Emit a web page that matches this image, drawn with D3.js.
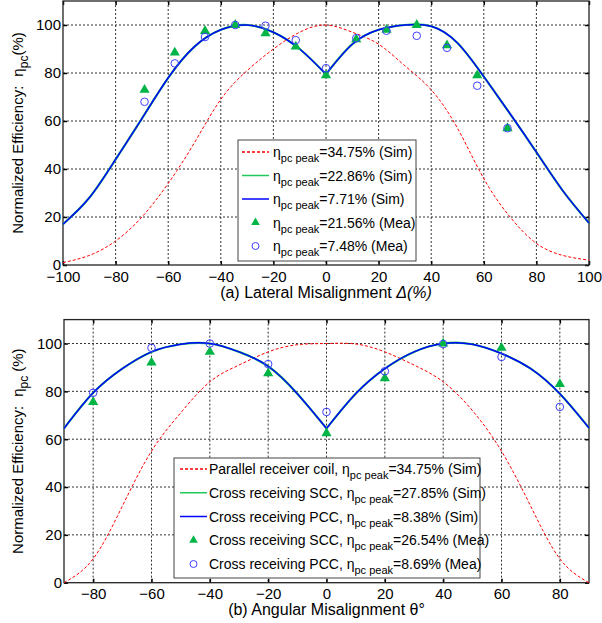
<!DOCTYPE html>
<html>
<head>
<meta charset="utf-8">
<script src="https://cdnjs.cloudflare.com/ajax/libs/d3/7.8.5/d3.min.js"></script>
<style>
body { margin: 0; background: #fff; }
text { font-family: Arial, "Liberation Sans", sans-serif; }
</style>
</head>
<body>
<script>
// ---- (a) lateral misalignment ----
var latX = [-100,-90,-80,-70,-60,-50,-40,-30,-20,-10,0,10,20,30,40,50,60,70,80,90,100];
var latParallel = [1,4,10,20,34,51,69,81,90,97,100,97,92,83,73,57,36,20,9,4,2];
var latSCC = [17,28,44,61,78,91,98,100,97,90,79.5,92,98,100,99.5,92.5,78.5,63,47,31,17.5];
var latPCC = [17,28,44,61,78,91,98,100,97,90,79.5,92,98,100,99.5,92.5,78.5,63,47,31,17.5];
var latMeaX = [-69,-57.5,-46,-34.5,-23,-11.5,0,11.5,23,34.5,46,57.5,69];
var latSCCMea = [73,88.5,97.5,100,96.5,91,79,94,98,100,91.5,79,57];
var latPCCMea = [68,84,95,100,99.7,93.7,82,94.5,97.6,95.5,90.5,74.7,57];
var latTicks = [-100,-80,-60,-40,-20,0,20,40,60,80,100];
var latLegendValues = ["=34.75% (Sim)","=22.86% (Sim)","=7.71% (Sim)","=21.56% (Mea)","=7.48% (Mea)"];

// ---- (b) angular misalignment ----
var angX = [-90,-80,-70,-60,-50,-40,-30,-20,-10,0,10,20,30,40,50,60,70,80,90];
var angParallel = [0,10,32,55,71,84,91,96.5,99.5,100,99.8,96.5,91,84,72,55,32,10,0];
var angSCC = [64.5,79.4,89.5,96.5,99.7,100,96.5,90.5,79,64.5,79,89.5,96.5,100,99.7,95.8,89.5,79,64.7];
var angPCC = [64.5,79.4,89.5,96.5,99.7,100,96.5,90.5,79,64.5,79,89.5,96.5,100,99.7,95.8,89.5,79,64.7];
var angMeaX = [-80,-60,-40,-20,0,20,40,60,80];
var angSCCMea = [75.5,92,96.5,87.5,62.5,85.5,100,98.2,83];
var angPCCMea = [79.4,98.2,100,91.4,71.4,88.4,99.8,94.4,73.5];
var angTicks = [-80,-60,-40,-20,0,20,40,60,80];
var angLegendNames = ["Parallel receiver coil, ","Cross receiving SCC, ","Cross receiving PCC, ","Cross receiving SCC, ","Cross receiving PCC, "];
var angLegendValues = ["=34.75% (Sim)","=27.85% (Sim)","=8.38% (Sim)","=26.54% (Mea)","=8.69% (Mea)"];

var yTicks = [0,20,40,60,80,100];

var w = 602;
var h = 623;
var RED = "#ff0000", GREEN = "#22c85a", BLUE = "#0000ff", TRI = "#00b446", CIRC = "#4040ff";

var svg = d3.select("body")
			.append("svg")
			.attr("width", w)
			.attr("height", h);

function pairs(xs, ys) {
	return xs.map((v, i) => [v, ys[i]]);
}

function drawPanel(p) {
	var x = d3.scaleLinear().domain(p.xDomain).range([p.left, p.right]);
	var y = d3.scaleLinear().domain([0, 110]).range([p.bottom, p.top]);
	var g = svg.append("g");

	// dotted grid
	g.selectAll(".gx")
		.data(p.xTicks.filter(d => d > p.xDomain[0] && d < p.xDomain[1]))
		.enter().append("line")
		.attr("x1", d => x(d)).attr("x2", d => x(d))
		.attr("y1", p.top).attr("y2", p.bottom)
		.attr("stroke", "#333").attr("stroke-dasharray", "2,2");
	g.selectAll(".gy")
		.data(yTicks.filter(d => d > 0))
		.enter().append("line")
		.attr("x1", p.left).attr("x2", p.right)
		.attr("y1", d => y(d)).attr("y2", d => y(d))
		.attr("stroke", "#333").attr("stroke-dasharray", "2,2");

	// axes, ticks inward on all sides
	var axes = [
		[d3.axisBottom(x).tickValues(p.xTicks), "translate(0," + p.bottom + ")", 6],
		[d3.axisTop(x).tickValues(p.xTicks).tickFormat(""), "translate(0," + p.top + ")", 5],
		[d3.axisLeft(y).tickValues(yTicks), "translate(" + p.left + ",0)", 2],
		[d3.axisRight(y).tickValues(yTicks).tickFormat(""), "translate(" + p.right + ",0)", 5]
	];
	axes.forEach(a => {
		var ag = g.append("g")
			.attr("transform", a[1])
			.call(a[0].tickSizeInner(-4).tickSizeOuter(0).tickPadding(a[2]));
		ag.select(".domain").remove();
		ag.selectAll("line").attr("stroke", "#000").attr("stroke-width", 1.5);
		ag.selectAll("text").attr("font-size", 15).attr("fill", "#000")
			.attr("font-family", "Arial, 'Liberation Sans', sans-serif");
	});

	g.append("rect")
		.attr("x", p.left).attr("y", p.top)
		.attr("width", p.right - p.left).attr("height", p.bottom - p.top)
		.attr("fill", "none").attr("stroke", "#222").attr("stroke-width", 1.3);

	var line = d3.line()
		.x(d => x(d[0]))
		.y(d => y(d[1]))
		.curve(d3.curveNatural);

	g.append("path")
		.attr("d", line(pairs(p.xs, p.parallel)))
		.attr("fill", "none").attr("stroke", RED)
		.attr("stroke-width", 1).attr("stroke-dasharray", "3,2");

	// cross coils have a cusp at 0, so draw each side separately
	[[p.scc, GREEN, 2.2], [p.pcc, BLUE, 1.5]].forEach(s => {
		var pts = pairs(p.xs, s[0]);
		[pts.filter(d => d[0] <= 0), pts.filter(d => d[0] >= 0)].forEach(part => {
			g.append("path")
				.attr("d", line(part))
				.attr("fill", "none").attr("stroke", s[1])
				.attr("stroke-width", s[2]);
		});
	});

	g.selectAll(".tri")
		.data(pairs(p.meaX, p.sccMea))
		.enter().append("path")
		.attr("d", d3.symbol().type(d3.symbolTriangle).size(45))
		.attr("transform", d => "translate(" + x(d[0]) + "," + y(d[1]) + ")")
		.attr("fill", TRI);

	g.selectAll(".circ")
		.data(pairs(p.meaX, p.pccMea))
		.enter().append("circle")
		.attr("cx", d => x(d[0]))
		.attr("cy", d => y(d[1]))
		.attr("r", 3.8)
		.attr("fill", "none").attr("stroke", CIRC).attr("stroke-width", 1);

	// y label
	var yl = g.append("text")
		.attr("transform", "translate(23," + (p.top + p.bottom) / 2 + ") rotate(-90)")
		.attr("text-anchor", "middle")
		.attr("font-size", 15);
	yl.append("tspan").text("Normalized Efficiency:");
	yl.append("tspan").attr("dx", 9).text("\u03b7");
	yl.append("tspan").attr("font-size", 12).attr("dy", 5).text("pc");
	yl.append("tspan").attr("dy", -5).attr("dx", p.ySpace).text("(%)");

	// x label
	var xl = g.append("text")
		.attr("x", (p.left + p.right) / 2)
		.attr("y", p.bottom + p.xLabelDy)
		.attr("text-anchor", "middle")
		.attr("font-size", 16);
	xl.append("tspan").text(p.xLabel);
	xl.append("tspan").attr("font-style", "italic").text(p.xUnit);

	// legend
	var lg = g.append("g");
	lg.append("rect")
		.attr("x", p.leg.x).attr("y", p.leg.y)
		.attr("width", p.leg.w).attr("height", p.leg.h)
		.attr("fill", "#fff").attr("stroke", "#444").attr("stroke-width", 1);
	var kinds = [["line", RED, "3,2"], ["line", GREEN, null], ["line", BLUE, null], ["tri", TRI], ["circ", CIRC]];
	kinds.forEach((k, i) => {
		var cy = p.leg.y + p.leg.row0 + i * p.leg.step;
		var x0 = p.leg.x + p.leg.lx0, x1 = p.leg.x + p.leg.lx1;
		if (k[0] == "line") {
			lg.append("line")
				.attr("x1", x0).attr("x2", x1).attr("y1", cy).attr("y2", cy)
				.attr("stroke", k[1]).attr("stroke-width", 1.5)
				.attr("stroke-dasharray", k[2]);
		} else if (k[0] == "tri") {
			lg.append("path")
				.attr("d", d3.symbol().type(d3.symbolTriangle).size(32)())
				.attr("transform", "translate(" + (x0 + x1) / 2 + "," + cy + ")")
				.attr("fill", k[1]);
		} else {
			lg.append("circle")
				.attr("cx", (x0 + x1) / 2).attr("cy", cy).attr("r", 3.5)
				.attr("fill", "none").attr("stroke", k[1]);
		}
		var t = lg.append("text")
			.attr("x", p.leg.x + p.leg.tx)
			.attr("y", cy + 5)
			.attr("font-size", 14);
		if (p.names) t.append("tspan").text(p.names[i]);
		t.append("tspan").text("\u03b7");
		t.append("tspan").attr("font-size", 11).attr("dy", 5).text("pc peak");
		t.append("tspan").attr("dy", -5).text(p.values[i]);
	});
}

drawPanel({
	left: 63, right: 589, top: 1, bottom: 265,
	xDomain: [-100, 100], xTicks: latTicks,
	xs: latX, parallel: latParallel, scc: latSCC, pcc: latPCC,
	meaX: latMeaX, sccMea: latSCCMea, pccMea: latPCCMea,
	xLabel: "(a) Lateral Misalignment ", xUnit: "\u0394(%)", xLabelDy: 33, ySpace: 0,
	names: null, values: latLegendValues,
	leg: { x: 238, y: 140, w: 178, h: 121, row0: 12, step: 23.5, lx0: 4, lx1: 31, tx: 35 }
});

drawPanel({
	left: 64, right: 589, top: 319.6, bottom: 582.7,
	xDomain: [-90, 90], xTicks: angTicks,
	xs: angX, parallel: angParallel, scc: angSCC, pcc: angPCC,
	meaX: angMeaX, sccMea: angSCCMea, pccMea: angPCCMea,
	xLabel: "(b) Angular Misalignment \u03b8\u00b0", xUnit: "", xLabelDy: 32, ySpace: 4,
	names: angLegendNames, values: angLegendValues,
	leg: { x: 174, y: 458, w: 306, h: 120, row0: 11, step: 23.75, lx0: 6, lx1: 33, tx: 35 }
});
</script>
</body>
</html>
